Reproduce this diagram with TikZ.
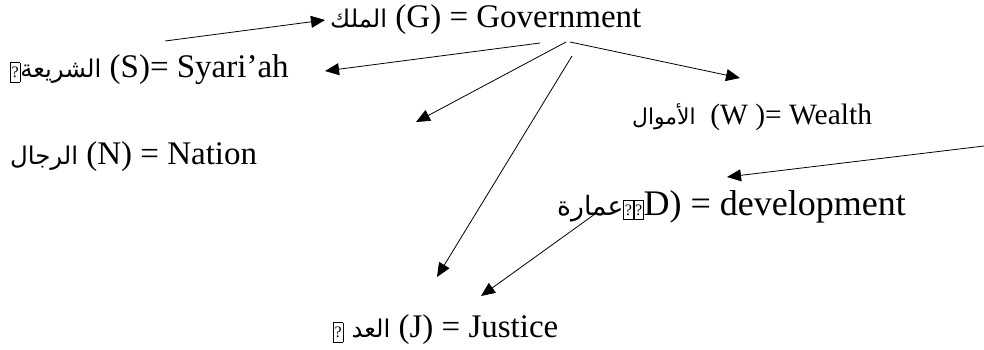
\documentclass[tikz,border=0pt]{standalone}
\usepackage{fontspec}
\setmainfont{Liberation Serif}
\newfontfamily\arabicfont[Script=Arabic,Scale=0.74]{DejaVu Sans}
\TeXXeTstate=1
\usetikzlibrary{arrows.meta}

\newcommand{\ar}[1]{{\arabicfont\beginR #1\endR}}
\newcommand{\qbox}{{\setlength{\fboxsep}{0.8pt}\setlength{\fboxrule}{0.7pt}\fbox{\rule[-3pt]{0pt}{17pt}\fontsize{16}{16}\selectfont ?}}}

\begin{document}
\begin{tikzpicture}[x=1pt,y=-1pt,
    lbl/.style={inner sep=0pt, anchor=west, font=\fontsize{#1}{#1}\selectfont},
    lbl/.default=32,
    pointer/.style={-{Triangle[length=14pt,width=12pt]}, line width=0.8pt}]
        \useasboundingbox (0,0) rectangle (984,349);

        % Labels
        \node[lbl=33] (gov) at (330,20) {\ar{الملك} (G) = Government};
        \node[lbl=33] (shar) at (10,70) {\qbox\ar{الشريعة} (S)= Syari’ah};
        \node[lbl=29.5] (wealth) at (632,117) {\ar{الأموال}\ \ (W )= Wealth};
        \node[lbl=33] (nation) at (10,157) {\ar{الرجال} (N) = Nation};
        \node[lbl=36] (dev) at (557,207) {\ar{عمارة}\qbox\qbox D) = development};
        \node[lbl=33] (just) at (333,330) {\qbox\ \ar{العد} (J) = Justice};

        % Free ends
        \coordinate (a) at (165,41);
        \coordinate (b) at (325,20);
        \coordinate (c) at (540,43);
        \coordinate (d) at (325,71);
        \coordinate (e) at (566,42);
        \coordinate (f) at (416,122);
        \coordinate (g) at (570,42);
        \coordinate (h) at (740,78);
        \coordinate (i) at (572,56);
        \coordinate (j) at (437,277);
        \coordinate (k) at (595,214);
        \coordinate (l) at (481,296);
        \coordinate (m) at (984,146);
        \coordinate (n) at (727,177);

        % Arrows
        \draw[pointer] (a) -- (b);
        \draw[pointer] (c) -- (d);
        \draw[pointer] (e) -- (f);
        \draw[pointer] (g) -- (h);
        \draw[pointer] (i) -- (j);
        \draw[pointer] (k) -- (l);
        \draw[pointer] (m) -- (n);
\end{tikzpicture}
\end{document}
